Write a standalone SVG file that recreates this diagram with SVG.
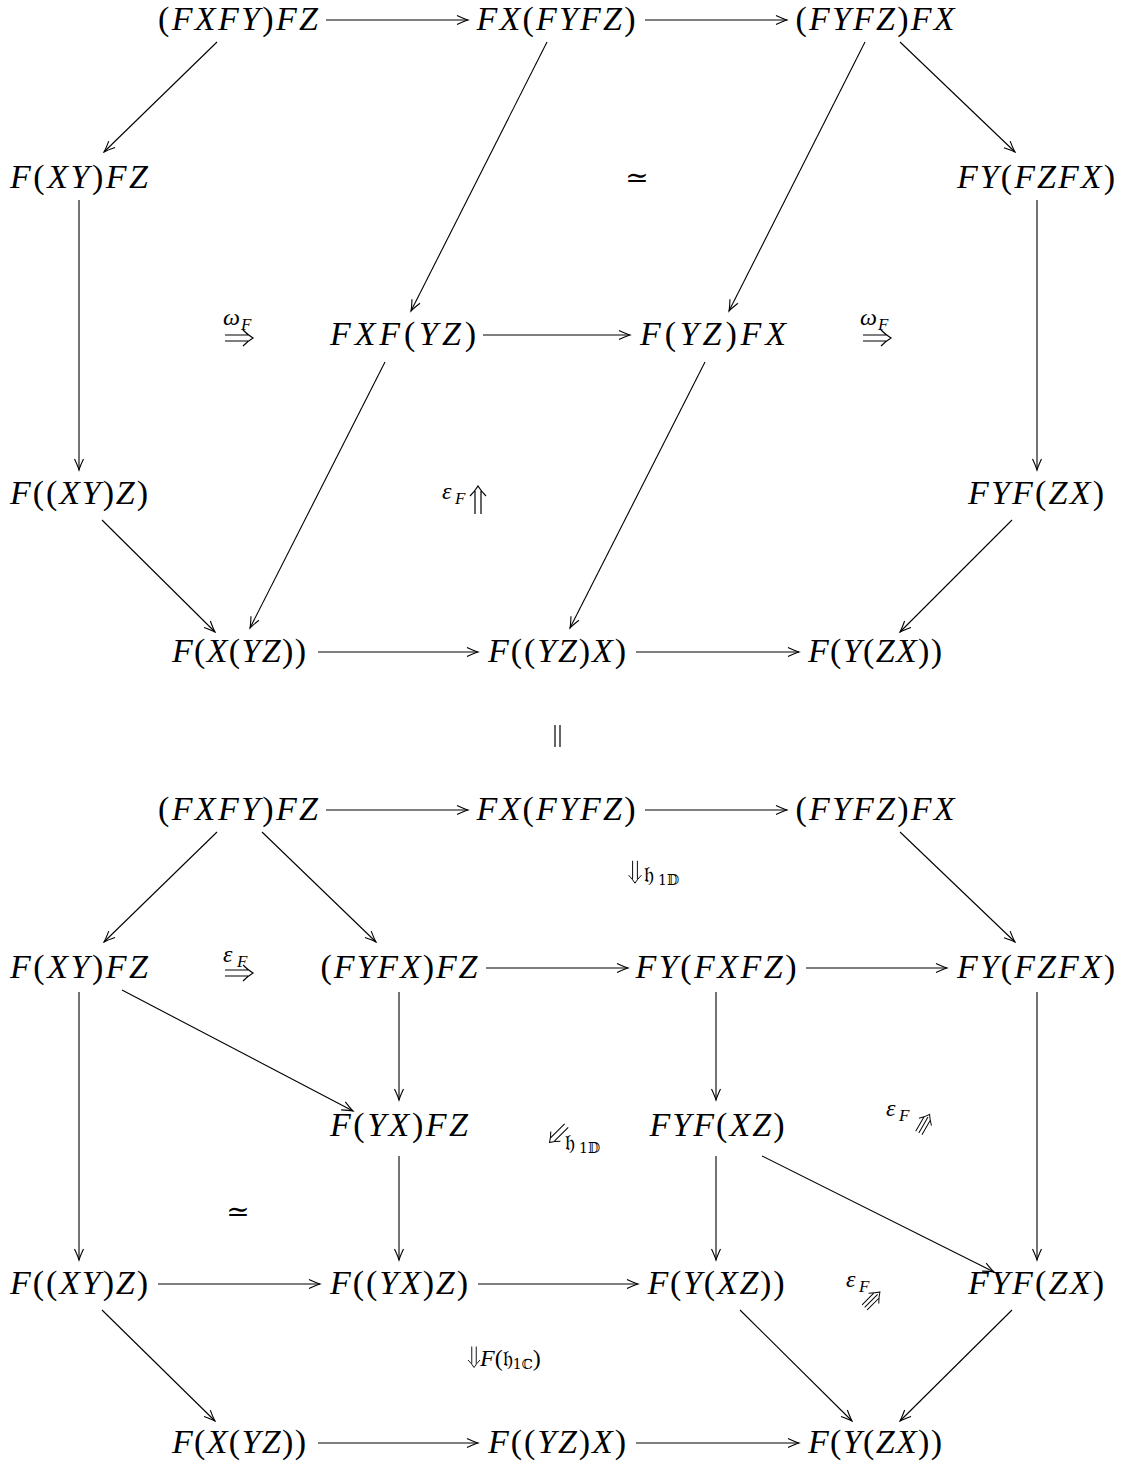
<svg xmlns="http://www.w3.org/2000/svg" xmlns:xlink="http://www.w3.org/1999/xlink" width="1124" height="1474" viewBox="0 0 1124 1474">
<style>
.m{font-family:"Liberation Serif","DejaVu Serif",serif;font-size:34px;font-style:italic;fill:#000}
.u{font-style:normal}
.lb{font-family:"Liberation Serif","DejaVu Serif",serif;font-size:24px;font-style:italic;fill:#000}
.sb{font-family:"Liberation Serif","DejaVu Serif",serif;font-size:17px;font-style:italic;fill:#000}
.fr{font-family:"DejaVu Serif","Noto Sans",serif;font-style:normal}
.c path{fill:none;stroke:#000;stroke-width:1.1;marker-end:url(#ah)}
.d{fill:none;stroke:#000;stroke-width:1.2}
.sim{font-family:"Liberation Serif","DejaVu Serif",serif;font-size:28px;fill:#000}
</style>
<defs>
<marker id="ah" viewBox="-12 -6 14 12" refX="0" refY="0" markerWidth="14" markerHeight="12" orient="auto" markerUnits="userSpaceOnUse">
<path d="M-11,-4.5 Q-4,-1.2 0,0 Q-4,1.2 -11,4.5" fill="none" stroke="#000" stroke-width="1.1"/>
</marker>
<g id="dbl"><path class="d" d="M-14,-3 H9 M-14,3 H9 M4,-8 Q9,-3 14,0 Q9,3 4,8"/></g>
<g id="tri"><path class="d" d="M-13,-4.5 H8 M-13,0 H10 M-13,4.5 H8 M3,-9 Q9,-3 14,0 Q9,3 3,9"/></g>
</defs>

<g id="connectors" class="c">
<path d="M326,20 H468"/>
<path d="M645,20 H787"/>
<path d="M217,42 L104,152"/>
<path d="M547,42 L411,311"/>
<path d="M865,42 L729,311"/>
<path d="M900,42 L1015,152"/>
<path d="M79,200 V470"/>
<path d="M1037,200 V470"/>
<path d="M483,335 H630"/>
<path d="M385,362 L250,628"/>
<path d="M705,362 L570,628"/>
<path d="M102,520 L215,632"/>
<path d="M1012,520 L900,632"/>
<path d="M318,652 H478"/>
<path d="M636,652 H799"/>

<path d="M326,810 H468"/>
<path d="M645,810 H787"/>
<path d="M217,832 L104,942"/>
<path d="M262,832 L376,942"/>
<path d="M900,832 L1015,942"/>
<path d="M486,968 H628"/>
<path d="M806,968 H947"/>
<path d="M122,990 L353,1111"/>
<path d="M79,992 V1260"/>
<path d="M399,992 V1100"/>
<path d="M716,992 V1100"/>
<path d="M1037,992 V1260"/>
<path d="M399,1156 V1260"/>
<path d="M716,1156 V1260"/>
<path d="M762,1156 L994,1272"/>
<path d="M158,1284 H320"/>
<path d="M478,1284 H638"/>
<path d="M102,1310 L215,1421"/>
<path d="M740,1310 L852,1421"/>
<path d="M1012,1310 L900,1421"/>
<path d="M318,1443 H478"/>
<path d="M636,1443 H799"/>
</g>

<!-- top diagram nodes -->
<g id="t1"><text class="m" x="238" y="30" text-anchor="middle" textLength="160"><tspan class="u">(</tspan>FXFY<tspan class="u">)</tspan>FZ</text></g>
<g id="t2"><text class="m" x="556" y="30" text-anchor="middle" textLength="159">FX<tspan class="u">(</tspan>FYFZ<tspan class="u">)</tspan></text></g>
<g id="t3"><text class="m" x="875" y="30" text-anchor="middle" textLength="159"><tspan class="u">(</tspan>FYFZ<tspan class="u">)</tspan>FX</text></g>
<g id="t4"><text class="m" x="79" y="188" text-anchor="middle" textLength="138">F<tspan class="u">(</tspan>XY<tspan class="u">)</tspan>FZ</text></g>
<g id="t5"><text class="m" x="1036" y="188" text-anchor="middle" textLength="158">FY<tspan class="u">(</tspan>FZFX<tspan class="u">)</tspan></text></g>
<g id="t6"><text class="m" x="403" y="345" text-anchor="middle" textLength="146">FXF<tspan class="u">(</tspan>YZ<tspan class="u">)</tspan></text></g>
<g id="t7"><text class="m" x="713" y="345" text-anchor="middle" textLength="146">F<tspan class="u">(</tspan>YZ<tspan class="u">)</tspan>FX</text></g>
<g id="t8"><text class="m" x="79" y="504" text-anchor="middle" textLength="138">F<tspan class="u">((</tspan>XY<tspan class="u">)</tspan>Z<tspan class="u">)</tspan></text></g>
<g id="t9"><text class="m" x="1036" y="504" text-anchor="middle" textLength="136">FYF<tspan class="u">(</tspan>ZX<tspan class="u">)</tspan></text></g>
<g id="t10"><text class="m" x="239" y="662" text-anchor="middle" textLength="134">F<tspan class="u">(</tspan>X<tspan class="u">(</tspan>YZ<tspan class="u">))</tspan></text></g>
<g id="t11"><text class="m" x="557" y="662" text-anchor="middle" textLength="138">F<tspan class="u">((</tspan>YZ<tspan class="u">)</tspan>X<tspan class="u">)</tspan></text></g>
<g id="t12"><text class="m" x="875" y="662" text-anchor="middle" textLength="134">F<tspan class="u">(</tspan>Y<tspan class="u">(</tspan>ZX<tspan class="u">))</tspan></text></g>

<!-- top 2-cells -->
<g id="t-sim"><text class="sim" x="637" y="187" text-anchor="middle">≃</text></g>
<g id="t-omega1"><text class="lb" x="223" y="325">ω</text><text class="sb" x="241" y="330">F</text><use xlink:href="#dbl" transform="translate(239,338)"/></g>
<g id="t-omega2"><text class="lb" x="860" y="325">ω</text><text class="sb" x="878" y="330">F</text><use xlink:href="#dbl" transform="translate(877,338)"/></g>
<g id="t-eps"><text class="lb" x="442" y="499">ε</text><text class="sb" x="455" y="504">F</text><use xlink:href="#dbl" transform="translate(478,500) rotate(-90)"/></g>

<g id="eq"><path class="d" d="M555,725 V747 M560,725 V747"/></g>

<!-- bottom diagram nodes -->
<g id="b1"><text class="m" x="238" y="820" text-anchor="middle" textLength="160"><tspan class="u">(</tspan>FXFY<tspan class="u">)</tspan>FZ</text></g>
<g id="b2"><text class="m" x="556" y="820" text-anchor="middle" textLength="159">FX<tspan class="u">(</tspan>FYFZ<tspan class="u">)</tspan></text></g>
<g id="b3"><text class="m" x="875" y="820" text-anchor="middle" textLength="159"><tspan class="u">(</tspan>FYFZ<tspan class="u">)</tspan>FX</text></g>
<g id="b4"><text class="m" x="79" y="978" text-anchor="middle" textLength="138">F<tspan class="u">(</tspan>XY<tspan class="u">)</tspan>FZ</text></g>
<g id="b5"><text class="m" x="399" y="978" text-anchor="middle" textLength="157"><tspan class="u">(</tspan>FYFX<tspan class="u">)</tspan>FZ</text></g>
<g id="b6"><text class="m" x="716" y="978" text-anchor="middle" textLength="161">FY<tspan class="u">(</tspan>FXFZ<tspan class="u">)</tspan></text></g>
<g id="b7"><text class="m" x="1036" y="978" text-anchor="middle" textLength="158">FY<tspan class="u">(</tspan>FZFX<tspan class="u">)</tspan></text></g>
<g id="b8"><text class="m" x="399" y="1136" text-anchor="middle" textLength="138">F<tspan class="u">(</tspan>YX<tspan class="u">)</tspan>FZ</text></g>
<g id="b9"><text class="m" x="717" y="1136" text-anchor="middle" textLength="135">FYF<tspan class="u">(</tspan>XZ<tspan class="u">)</tspan></text></g>
<g id="b10"><text class="m" x="79" y="1294" text-anchor="middle" textLength="138">F<tspan class="u">((</tspan>XY<tspan class="u">)</tspan>Z<tspan class="u">)</tspan></text></g>
<g id="b11"><text class="m" x="399" y="1294" text-anchor="middle" textLength="138">F<tspan class="u">((</tspan>YX<tspan class="u">)</tspan>Z<tspan class="u">)</tspan></text></g>
<g id="b12"><text class="m" x="716" y="1294" text-anchor="middle" textLength="137">F<tspan class="u">(</tspan>Y<tspan class="u">(</tspan>XZ<tspan class="u">))</tspan></text></g>
<g id="b13"><text class="m" x="1036" y="1294" text-anchor="middle" textLength="136">FYF<tspan class="u">(</tspan>ZX<tspan class="u">)</tspan></text></g>
<g id="b14"><text class="m" x="239" y="1453" text-anchor="middle" textLength="134">F<tspan class="u">(</tspan>X<tspan class="u">(</tspan>YZ<tspan class="u">))</tspan></text></g>
<g id="b15"><text class="m" x="557" y="1453" text-anchor="middle" textLength="138">F<tspan class="u">((</tspan>YZ<tspan class="u">)</tspan>X<tspan class="u">)</tspan></text></g>
<g id="b16"><text class="m" x="875" y="1453" text-anchor="middle" textLength="134">F<tspan class="u">(</tspan>Y<tspan class="u">(</tspan>ZX<tspan class="u">))</tspan></text></g>

<!-- bottom 2-cells -->
<g id="b-h1"><use xlink:href="#dbl" transform="translate(635,872) rotate(90) scale(0.8)"/><text class="lb fr" x="644" y="882" style="font-size:22px">𝔥</text><text class="sb fr" x="658" y="885" style="font-size:14px">1𝔻</text></g>
<g id="b-eps1"><text class="lb" x="223" y="962">ε</text><text class="sb" x="237" y="967">F</text><use xlink:href="#dbl" transform="translate(239,973)"/></g>
<g id="b-h2"><use xlink:href="#dbl" transform="translate(558,1134) rotate(135) scale(0.85)"/><text class="lb fr" x="565" y="1150" style="font-size:22px">𝔥</text><text class="sb fr" x="579" y="1153" style="font-size:14px">1𝔻</text></g>
<g id="b-eps2"><text class="lb" x="886" y="1116">ε</text><text class="sb" x="899" y="1121">F</text><use xlink:href="#tri" transform="translate(924,1124) rotate(-60) scale(0.8)"/></g>
<g id="b-sim"><text class="sim" x="238" y="1221" text-anchor="middle">≃</text></g>
<g id="b-eps3"><text class="lb" x="846" y="1287">ε</text><text class="sb" x="859" y="1292">F</text><use xlink:href="#tri" transform="translate(872,1300) rotate(-45) scale(0.8)"/></g>
<g id="b-Fh"><use xlink:href="#dbl" transform="translate(474,1357) rotate(90) scale(0.75)"/><text class="lb" x="480" y="1366">F<tspan class="u">(</tspan><tspan class="fr" style="font-size:22px">𝔥</tspan><tspan class="fr" style="font-size:14px" dy="3">1ℂ</tspan><tspan class="u" dy="-3">)</tspan></text></g>
</svg>
